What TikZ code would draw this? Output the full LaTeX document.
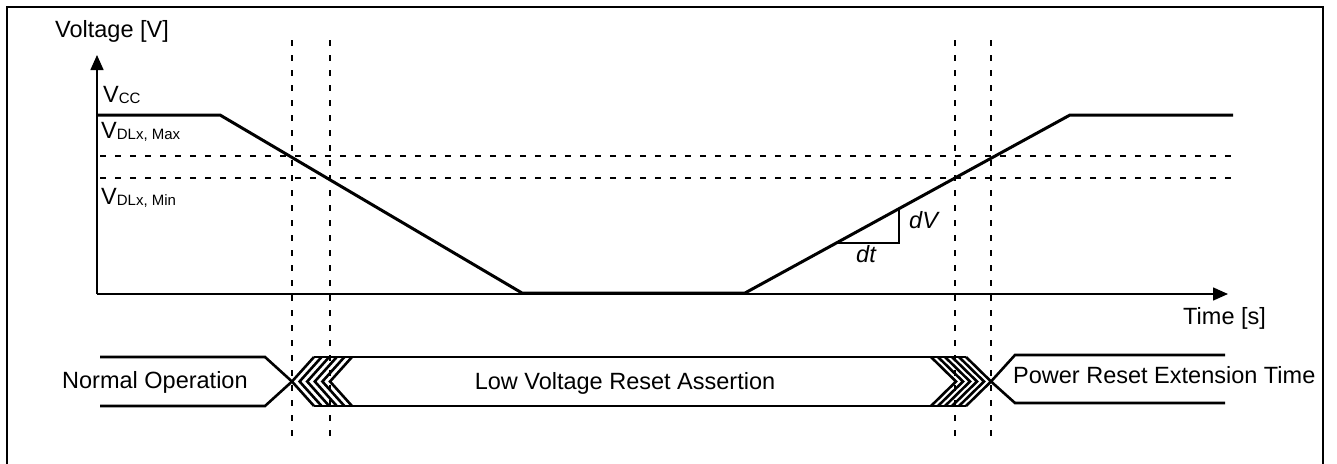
\documentclass[tikz,border=0pt]{standalone}
\usepackage{fontspec}
\setmainfont{Liberation Sans}
\usetikzlibrary{arrows.meta}
\newcommand{\sbs}[1]{\raisebox{-1.5pt}{\fontsize{15}{15}\selectfont #1}}
\begin{document}
\begin{tikzpicture}[x=1pt,y=-1pt,
  lbl/.style={inner sep=0pt, font=\fontsize{23.5}{28}\selectfont},
  sig/.style={line width=2.6pt},
  curve/.style={line width=3pt, line join=miter},
  guide/.style={line width=1.1pt, dash pattern=on 6pt off 9pt},
  axis/.style={line width=1.5pt, -{Triangle[length=15pt,width=13pt]}},
  frame/.style={line width=2pt}]
\useasboundingbox (0,0) rectangle (1337,463);
% frame (open at bottom)
\draw[frame] (7,480) -- (7,7) -- (1323,7) -- (1323,480);

% axes
\coordinate (O) at (97,294);
\coordinate (ytip) at (97,55);
\coordinate (xtip) at (1228,294);
\draw[axis] (O) -- (ytip);
\draw[axis] (O) -- (xtip);

% guides
\draw[guide] (100,156) -- (1233,156);
\draw[guide] (100,178) -- (1233,178);
\foreach \gx in {292,330,955,991}{
  \draw[guide] (\gx,40) -- (\gx,436);
}

% voltage curve
\coordinate (p0) at (97,115);
\coordinate (p1) at (220,115);
\coordinate (p2) at (522,293);
\coordinate (p3) at (745,293);
\coordinate (p4) at (1070,115);
\coordinate (p5) at (1233,115);
\draw[curve] (p0) -- (p1) -- (p2) -- (p3) -- (p4) -- (p5);

% slope triangle
\coordinate (t0) at (837,243);
\coordinate (t1) at (899,243);
\coordinate (t2) at (899,209);
\draw[line width=1.5pt] (t0) -- (t1) -- (t2);
\node[lbl, anchor=base west] (dV) at (909,228) {\itshape dV};
\node[lbl, anchor=base west] (dt) at (856,262) {\itshape dt};

% axis labels
\node[lbl, anchor=base west] (ylab) at (55,37) {Voltage [V]};
\node[lbl, anchor=base west] (xlab) at (1183,324.5) {Time [s]};
\node[lbl, anchor=base west] (vcc) at (103,102) {V\sbs{CC}};
\node[lbl, anchor=base west] (vmax) at (101,138) {V\sbs{DLx, Max}};
\node[lbl, anchor=base west] (vmin) at (101,204) {V\sbs{DLx, Min}};

% bus: normal operation
\draw[sig] (100,357) -- (265,357) -- (292,381.5) -- (265,406) -- (100,406);
\node[lbl, anchor=base west] (normal) at (62,388.5) {Normal Operation};

% bus: low voltage reset assertion
\foreach \i in {0,...,5}{
  \pgfmathsetmacro\ca{292+7.6*\i}
  \draw[sig] (\ca+22,357) -- (\ca,381.5) -- (\ca+22,406);
}
\foreach \i in {0,...,5}{
  \pgfmathsetmacro\cb{956+7*\i}
  \draw[sig] (\cb-25,357) -- (\cb,381.5) -- (\cb-25,406);
}
\draw[sig] (314,357) -- (966,357);
\draw[sig] (314,406) -- (966,406);
\node[lbl, anchor=base] (lvr) at (625,389) {Low Voltage Reset Assertion};

% bus: power reset extension time
\draw[sig] (1225,355) -- (1015,355) -- (991,381.5) -- (1015,403) -- (1225,403);
\node[lbl, anchor=base west] (pret) at (1013,383) {Power Reset Extension Time};
\end{tikzpicture}
\end{document}
